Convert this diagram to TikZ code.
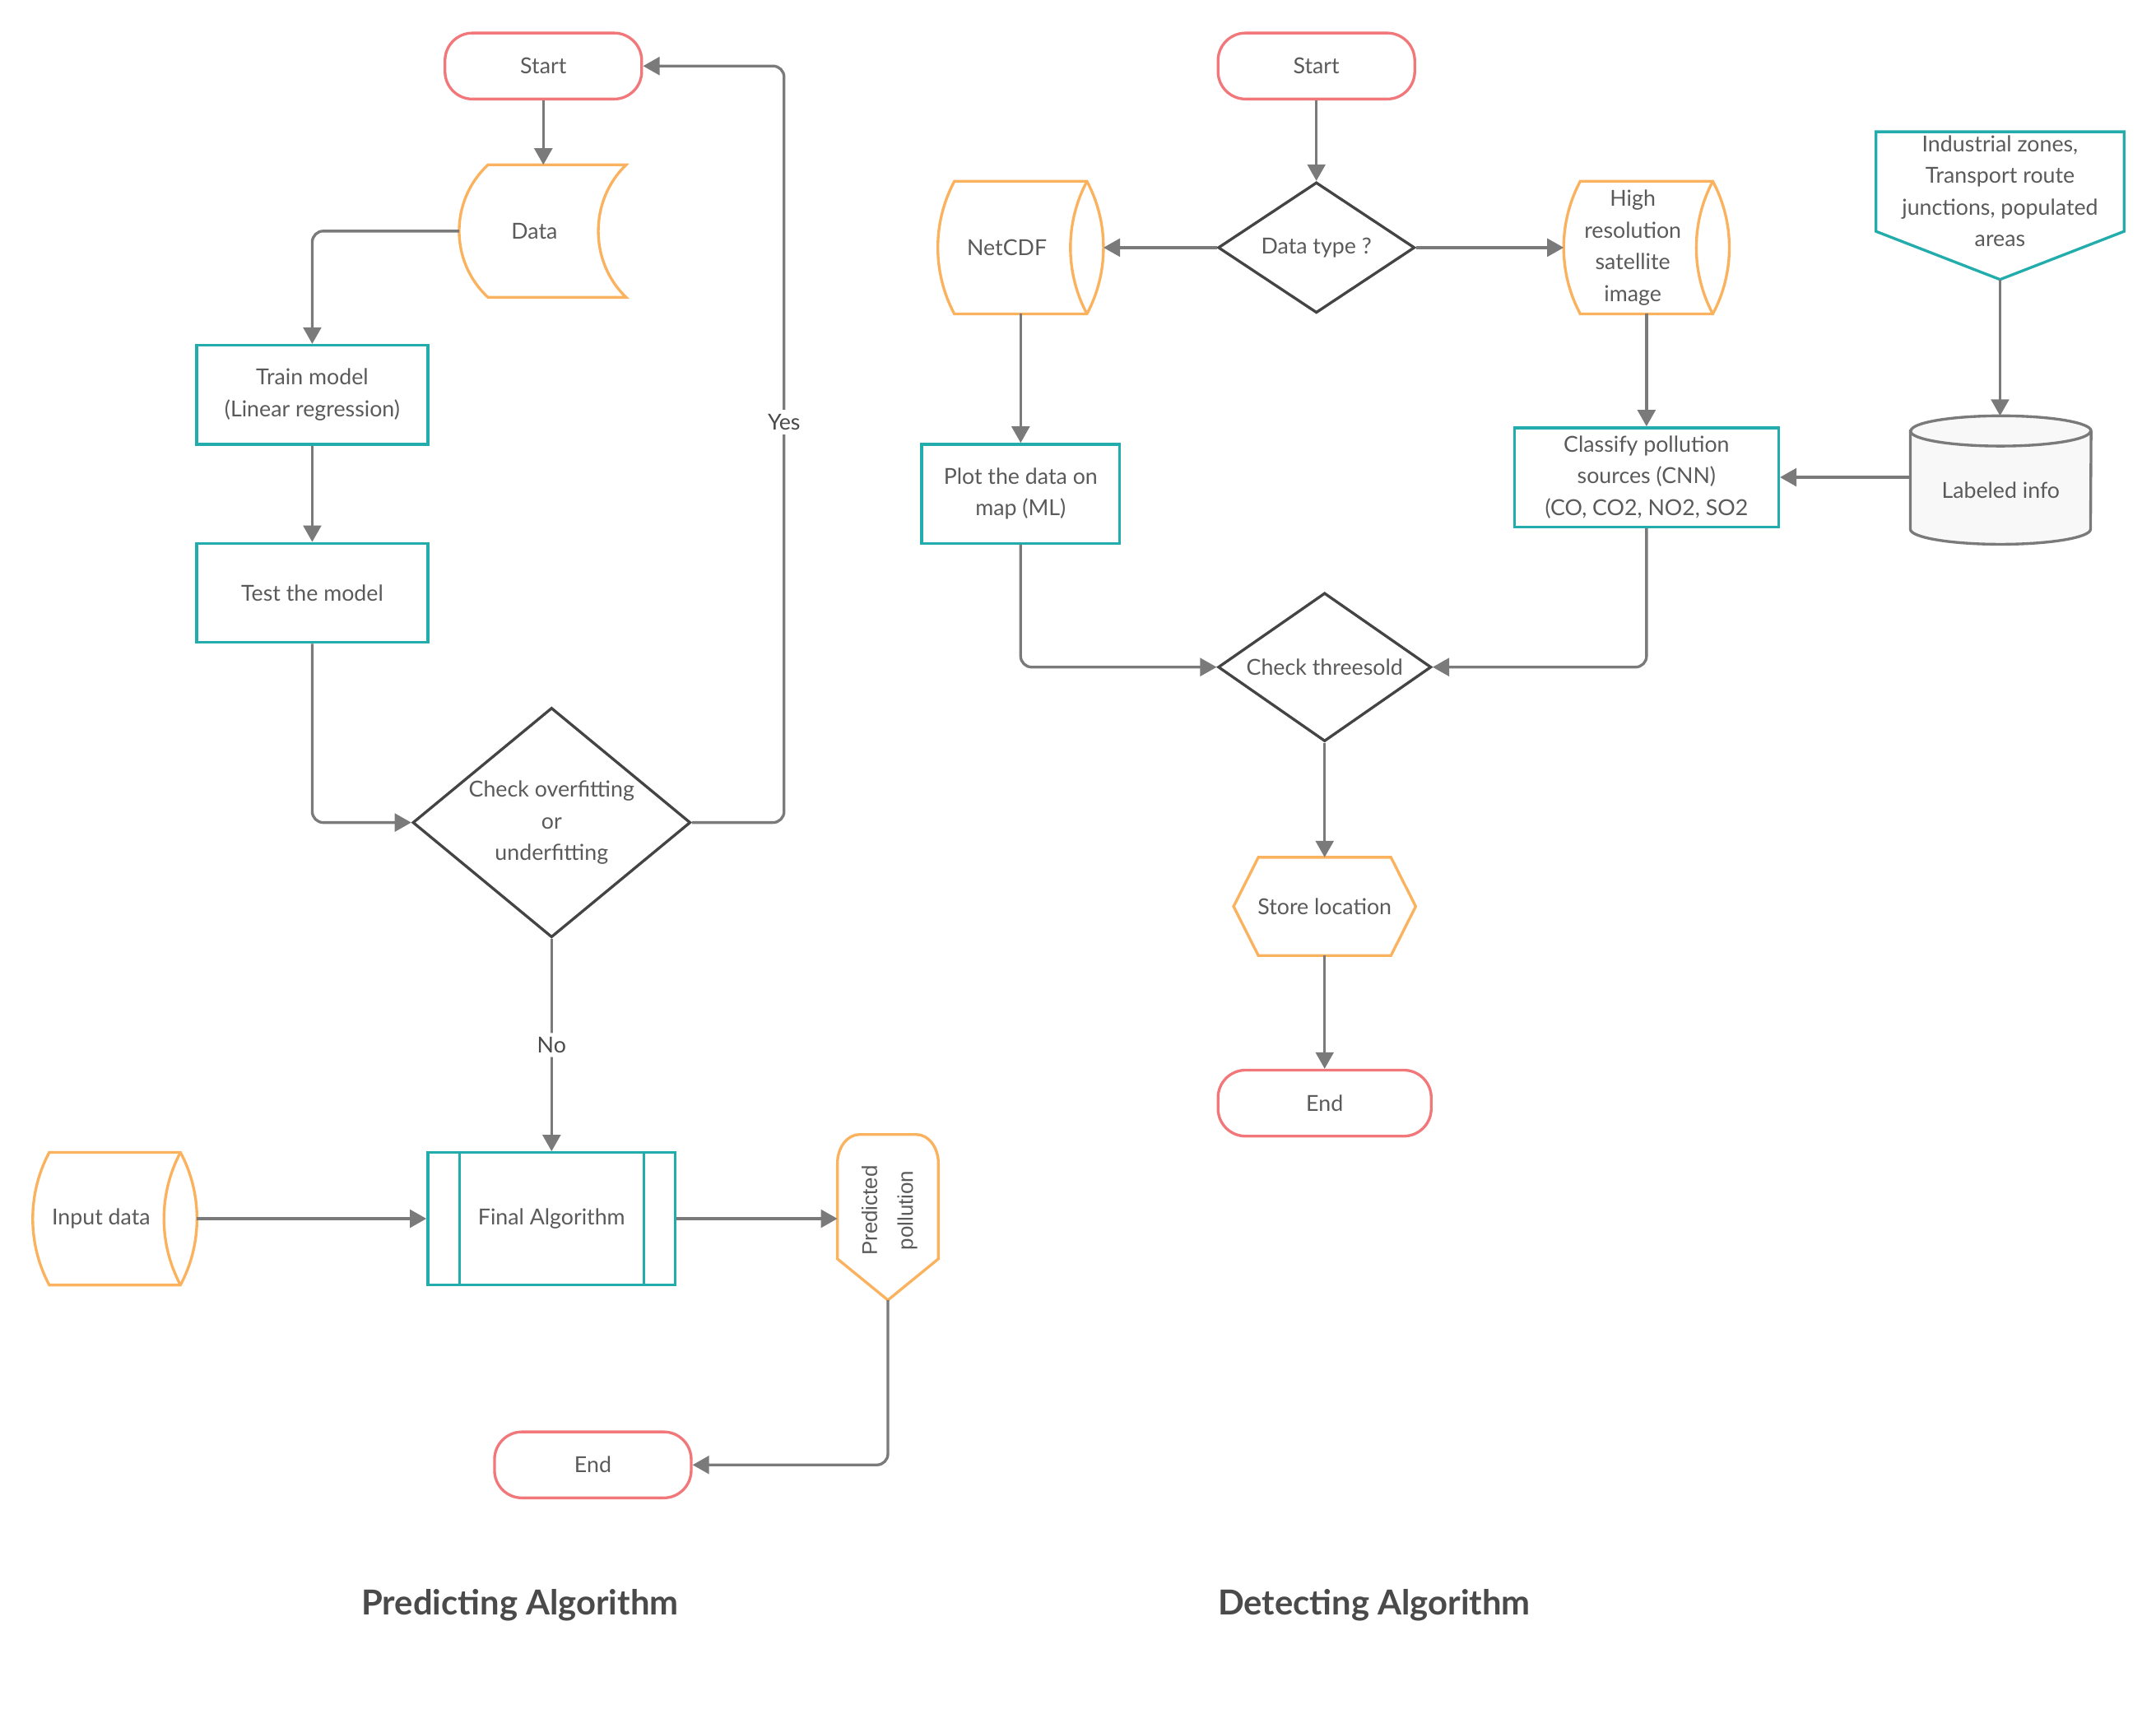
\documentclass[tikz,border=0pt]{standalone}
\usepackage{fontspec}
\setmainfont{Lato}
\newfontfamily\predfont{Liberation Sans}
\usepackage{tikz}
\usetikzlibrary{shapes,arrows,arrows.meta,backgrounds}
\definecolor{termred}{HTML}{F2777A}
\definecolor{stororange}{HTML}{FAB25F}
\definecolor{procteal}{HTML}{22ACAB}
\definecolor{decgray}{HTML}{444444}
\definecolor{linegray}{HTML}{7A7A7A}
\definecolor{txtgray}{HTML}{5A5A5A}
\definecolor{titlegray}{HTML}{4A4A4A}
\definecolor{cylfill}{HTML}{F8F8F8}
\tikzstyle{terminal} = [draw=termred, line width=2pt, rectangle, rounded corners=20pt, minimum height=48pt, minimum width=143pt]
\tikzstyle{process} = [draw=procteal, line width=2pt, rectangle, minimum height=72pt, minimum width=168pt, align=center]
\tikzstyle{decision} = [draw=decgray, line width=2pt, diamond, inner sep=0pt, align=center]
\tikzstyle{shapebox} = [rectangle, inner sep=0pt, align=center]
\tikzstyle{flow} = [draw=linegray, line width=2pt, ->, rounded corners=8pt]
\tikzstyle{edgelabel} = [fill=white, text=titlegray, inner sep=3pt]
\tikzstyle{heading} = [font=\fontsize{25}{30}\selectfont\bfseries, text=titlegray]
\newcommand{\capgap}{\rule{20pt}{0pt}}
\newcommand{\dastoreoutline}[1]{%
  \draw[stororange, line width=2pt] ([xshift=12pt]#1.north west) -- ([xshift=-12pt]#1.north east)
    .. controls ([xshift=4pt,yshift=-30pt]#1.north east) and ([xshift=4pt,yshift=30pt]#1.south east) .. ([xshift=-12pt]#1.south east)
    -- ([xshift=12pt]#1.south west)
    .. controls ([xshift=-4pt,yshift=30pt]#1.south west) and ([xshift=-4pt,yshift=-30pt]#1.north west) .. ([xshift=12pt]#1.north west) -- cycle;
  \draw[stororange, line width=2pt] ([xshift=-12pt]#1.north east)
    .. controls ([xshift=-28pt,yshift=-30pt]#1.north east) and ([xshift=-28pt,yshift=30pt]#1.south east) .. ([xshift=-12pt]#1.south east);}

\begin{document}
\begin{tikzpicture}[x=1pt, y=-1pt, >={Triangle[length=12pt,width=13pt]},
    every node/.style={text=txtgray, font=\fontsize{16}{23}\selectfont}]
    \useasboundingbox (0,0) rectangle (1567.4,1256.3);

    % Predicting algorithm blocks
    \node [terminal] (startL) at (395,48) {Start};
    \node [shapebox, minimum width=121pt, minimum height=96pt] (dataL) at (394.5,168) {Data\rule{12pt}{0pt}};
    \node [process] (train) at (227,287) {Train model\\(Linear regression)};
    \node [process] (test) at (227,431) {Test the model};
    \node [decision, aspect=1.21, minimum width=202pt, minimum height=167pt] (checkfit) at (401,598) {Check overfitting\\or\\underfitting};
    \node [process, minimum width=180pt, minimum height=96pt] (final) at (401,886) {Final Algorithm};
    \node [shapebox, minimum width=119pt, minimum height=96pt] (inputd) at (83.5,886) {Input data\capgap};
    \node [shapebox, minimum width=73pt, minimum height=110pt] (pred) at (645.5,880) {\predfont\fontsize{15.5}{26}\selectfont\rotatebox{90}{\begin{tabular}{@{}c@{}}Predicted\\pollution\end{tabular}}};
    \coordinate (predtip) at ([yshift=-10pt]pred.south);
    \node [terminal] (endL) at (431,1065) {End};
    \coordinate (yesturn) at (570,48);

    % outlines of the special shapes
    \draw[stororange, line width=2pt] ([xshift=21pt]dataL.north west) -- (dataL.north east)
        .. controls ([xshift=-27pt,yshift=-26pt]dataL.north east) and ([xshift=-27pt,yshift=26pt]dataL.south east) .. (dataL.south east)
        -- ([xshift=21pt]dataL.south west)
        .. controls ([xshift=-7pt,yshift=26pt]dataL.south west) and ([xshift=-7pt,yshift=-26pt]dataL.north west) .. ([xshift=21pt]dataL.north west) -- cycle;
    \dastoreoutline{inputd}
    \draw[stororange, line width=2pt] ([yshift=20pt]pred.south west) -- ([yshift=-21pt]pred.north west)
        arc[start angle=180, end angle=90, x radius=16pt, y radius=21pt] -- ([xshift=-16pt]pred.north east)
        arc[start angle=90, end angle=0, x radius=16pt, y radius=21pt] -- ([yshift=20pt]pred.south east)
        -- (predtip) -- cycle;
    \draw[procteal, line width=2pt] ([xshift=24pt]final.north west) -- ([xshift=24pt]final.south west)
        ([xshift=-24pt]final.north east) -- ([xshift=-24pt]final.south east);

    % connecting them
    \draw [flow] (startL.south) -- (startL.south |- dataL.north);
    \draw [flow] (dataL.west) -| (train.north);
    \draw [flow] (train) -- (test);
    \draw [flow] (test.south) |- (checkfit.west);
    \draw [flow] (checkfit.east) -| (yesturn) -- (startL.east);
    \node [edgelabel] (yes) at (570,307) {Yes};
    \draw [flow] (checkfit.south) -- node[edgelabel] (no) {No} (final.north);
    \draw [flow] (inputd) -- (final);
    \draw [flow] (final.east) -- (final.east -| pred.west);
    \draw [flow] (predtip) |- (endL.east);

    % Detecting algorithm blocks
    \node [terminal] (startR) at (957,48) {Start};
    \node [decision, aspect=1.5, minimum width=143pt, minimum height=95pt] (dtype) at (957,180) {Data type ?};
    \node [shapebox, minimum width=120pt, minimum height=96pt] (netcdf) at (742,180) {NetCDF\capgap};
    \node [shapebox, minimum width=120pt, minimum height=96pt] (hires) at (1197,180) {\begin{tabular}{@{}c@{}}High\\resolution\\satellite\\image\end{tabular}\capgap};
    \node [process, minimum width=144pt] (plotmap) at (742,359) {Plot the data on\\map (ML)};
    \node [process, minimum width=192pt] (classify) at (1197,347) {Classify pollution\\sources (CNN)\\(CO, CO2, NO2, SO2};
    \node [shapebox, minimum width=180pt, minimum height=86pt] (indzone) at (1454,139) {Industrial zones,\\Transport route\\junctions, populated\\areas};
    \coordinate (indtip) at ([yshift=-21pt]indzone.south);
    \node [shapebox, minimum width=131pt, minimum height=93pt] (labeled) at (1454.5,349) {\raisebox{-13pt}[0pt][0pt]{Labeled info}};
    \node [decision, aspect=1.43, minimum width=155pt, minimum height=108pt] (thresh) at (963,485) {Check threesold};
    \node [shapebox, minimum width=132pt, minimum height=71pt] (store) at (963,659) {Store location};
    \node [terminal, minimum width=155pt] (endR) at (963,802) {End};

    % outlines of the special shapes
    \dastoreoutline{netcdf}
    \dastoreoutline{hires}
    \draw[procteal, line width=2pt] (indzone.north west) -- (indzone.north east) -- ([yshift=14pt]indzone.south east)
        -- (indtip) -- ([yshift=14pt]indzone.south west) -- cycle;
    \begin{scope}[on background layer]
    \draw[linegray, line width=2pt, fill=cylfill] ([yshift=-11pt]labeled.north west) -- ([yshift=11pt]labeled.south west)
        arc[start angle=180, end angle=360, x radius=65.5pt, y radius=11pt] -- ([yshift=-11pt]labeled.north east)
        arc[start angle=0, end angle=180, x radius=65.5pt, y radius=11pt] -- cycle;
    \end{scope}
    \draw[linegray, line width=2pt] ([yshift=-11pt]labeled.north west) arc[start angle=180, end angle=360, x radius=65.5pt, y radius=11pt];
    \draw[stororange, line width=2pt] ([xshift=18pt]store.north west) -- ([xshift=-18pt]store.north east) -- (store.east)
        -- ([xshift=-18pt]store.south east) -- ([xshift=18pt]store.south west) -- (store.west) -- cycle;

    % connecting them
    \draw [flow] (startR) -- (dtype);
    \draw [flow] (dtype) -- (netcdf);
    \draw [flow] (dtype) -- (hires);
    \draw [flow] (netcdf) -- (plotmap);
    \draw [flow] (hires) -- (classify);
    \draw [flow] (indtip) -- (indtip |- labeled.north);
    \draw [flow] (labeled.west |- classify.east) -- (classify.east);
    \draw [flow] (plotmap.south) |- (thresh.west);
    \draw [flow] (classify.south) |- (thresh.east);
    \draw [flow] (thresh) -- (store);
    \draw [flow] (store) -- (endR);

    % titles
    \node [heading] (predtitle) at (378,1167) {Predicting Algorithm};
    \node [heading] (dettitle) at (999,1167) {Detecting Algorithm};
\end{tikzpicture}
\end{document}
